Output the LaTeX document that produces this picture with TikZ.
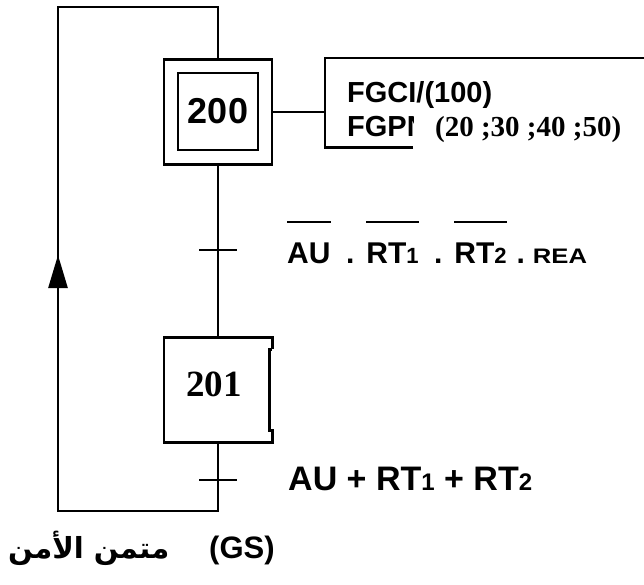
\documentclass[tikz,border=0pt]{standalone}
\usepackage{fontspec}
\setmainfont{Liberation Sans}
\newfontfamily\serifbold{Liberation Serif}
\newfontfamily\arabicfont[Script=Arabic]{DejaVu Sans}
\TeXXeTstate=1
\usetikzlibrary{positioning, calc, arrows.meta}
\newcommand\fsz[1]{\fontsize{#1}{#1}\selectfont}
\newcommand\subnum[2]{{\fsz{#1}#2}}
\newcommand\ovbar[1]{\setbox0=\hbox{#1}\rlap{\rule[40pt]{\wd0}{2pt}}\box0}

\begin{document}
\begin{tikzpicture}[x=1pt, y=-1pt,
  ln/.style={line width=2.6pt},
  etape/.style={minimum width=108pt, minimum height=105pt, inner sep=0pt},
  recep/.style={anchor=base west, inner sep=0pt, font=\bfseries},
  acttxt/.style={anchor=base west, inner sep=0pt, font=\fsz{29}\bfseries}
]
\useasboundingbox (0,0) rectangle (644,585);

% etape initiale 200
\node[etape, draw, line width=2.6pt] (e200) at (218,112) {};
\node[draw, line width=2.6pt, minimum width=80pt, minimum height=77pt,
  inner sep=0pt, font=\fsz{36}\bfseries] (e200in) at (218,111.5) {200};

% action
\node[minimum width=319pt, minimum height=89pt, inner sep=0pt,
  anchor=north west] (act) at (325,58) {};
\draw[ln] (e200.east) -- (e200.east -| act.west);
\draw[ln] ($(act.south west)+(88,0)$) -- (act.south west) -- (act.north west) -- (act.north east);
\node[acttxt] (fgci) at (347,103) {FGCI/(100)};
\node[acttxt, fill=white, text height=31pt] (fgpn) at (347,137) {FGPN};
\node[anchor=base west, inner sep=0pt, fill=white, text height=24pt,
  font=\fsz{29}\serifbold\bfseries] (param) at (414,137) {\hspace{21pt}(20 ;30 ;40 ;50)};

% etape 201
\node[etape] (e201) at (218,390) {};
\node[font=\fsz{37}\serifbold\bfseries] (n201) at (214,384) {201};
\draw[ln] ($(e201.north east)+(0,12)$) -- (e201.north east) -- (e201.north west)
  -- (e201.south west) -- (e201.south east) -- ++(0,-12) -- ++(-3,0)
  -- ($(e201.north east)+(-3,12)$) -- ++(3,0);

% liaisons et transitions
\coordinate (t1) at (218,250);
\coordinate (t2) at (218,480);
\coordinate (br) at (218,511);
\coordinate (bl) at (58,511);
\coordinate (tl) at (58,7);
\coordinate (tr) at (218,7);
\coordinate (am) at (58,255);
\draw[ln] (e200.south) -- (e201.north);
\draw[ln] (e201.south) -- (br) -- (bl) -- (tl) -- (tr) -- (e200.north);
\draw[ln, -{Triangle[length=33pt, width=19pt]}] (bl) -- (am);
\draw[ln] ($(t1)+(-19,0)$) -- ($(t1)+(19,0)$);
\draw[ln] ($(t2)+(-19,0)$) -- ($(t2)+(19,0)$);

\node[recep, font=\fsz{30}\bfseries] (r1) at (287,263)
  {\ovbar{AU}\hspace{15.5pt}.\hspace{12pt}\ovbar{RT\subnum{22}{1}}\hspace{15.5pt}.\hspace{12pt}\ovbar{RT\subnum{22}{2}}\hspace{10pt}.\hspace{8pt}\scalebox{1.22}[1]{\fsz{21}REA}};
\node[recep, font=\fsz{34}\bfseries] (r2) at (288,490)
  {AU + RT\subnum{24}{1} + RT\subnum{24}{2}};

% titre
\node[anchor=base west, inner sep=0pt, font=\fsz{31}\bfseries] (titre) at (8,558)
  {{\arabicfont\fsz{29}\beginR متمن الأمن\endR}\hspace{40pt}(GS)};
\end{tikzpicture}
\end{document}
